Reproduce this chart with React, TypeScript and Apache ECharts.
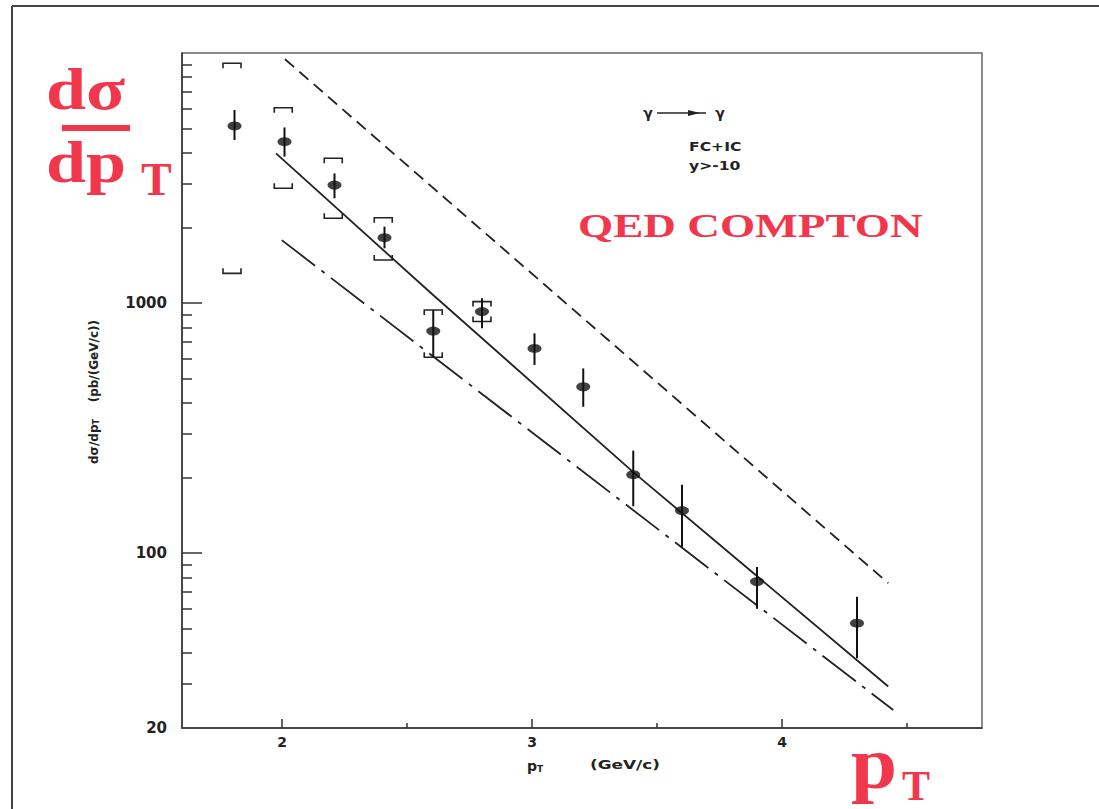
import React, { useEffect, useRef } from 'react';
import * as echarts from 'echarts';

// ---- data ----
const ptValues = [1.81, 2.01, 2.21, 2.41, 2.605, 2.80, 3.01, 3.205, 3.405, 3.60, 3.90, 4.30];
const sigmaValues = [5110, 4420, 2965, 1826, 773, 925, 659, 463, 206, 148, 77, 52.5];
const errHigh = [5920, 5040, 3300, 2021, 938, 1045, 757, 548, 257, 188, 88, 67];
const errLow = [4490, 3850, 2625, 1656, 607, 793, 566, 385, 154, 106, 60, 38];

const bracketPt = [1.80, 2.005, 2.205, 2.405, 2.605, 2.80];
const bracketHigh = [9100, 6040, 3795, 2195, 938, 1014];
const bracketLow = [1315, 2880, 2183, 1486, 607, 844];

const dashedPt = [2.012, 4.425];
const dashedVal = [9440, 75.9];
const solidPt = [1.976, 2.6, 3.405, 4.425];
const solidVal = [3970, 1087, 211, 29.3];
const dashDotPt = [1.999, 4.445];
const dashDotVal = [1786, 23.6];

const xTickMajor = [2, 3, 4];
const xTickMinor = [2.5, 3.5, 4.5];
const yLabels = [20, 100, 1000];
const yTickMajor = [100, 1000];
const yTickMinor = [30, 40, 50, 60, 70, 80, 90, 200, 300, 400, 500, 600, 700, 800, 900, 2000, 3000, 4000, 5000, 6000, 7000, 8000, 9000];

const RED = '#f2364c';
const INK = '#222';

export default function App() {
  const ref = useRef<HTMLDivElement>(null);
  useEffect(() => {
    if (!ref.current) return;
    const chart = echarts.init(ref.current, undefined, { renderer: 'svg' });
    const pair = (xs: number[], ys: number[]) => xs.map((x, i) => [x, ys[i]]);
    const lineSeries = (name: string, data: number[][], type: any) => ({
      name, type: 'line', data, showSymbol: false, symbol: 'none', silent: true,
      lineStyle: { color: INK, width: 1.8, type },
      z: 3,
    });
    // serif text placed by its baseline (central baseline sits ~0.3375em above alphabetic one)
    const serif = (text: string, x: number, baseline: number, size: number, scaleX = 1, lineHeight?: number) => ({
      type: 'text', x, y: baseline - 0.3375 * size, scaleX,
      style: { text, font: `bold ${size}px "Liberation Serif"`, fill: RED, textAlign: 'left', textVerticalAlign: 'middle', lineHeight: lineHeight ?? size },
    });
    const option: any = {
      animation: false,
      backgroundColor: '#ffffff',
      grid: { left: 182, top: 53, right: 117, bottom: 81, show: true, borderColor: '#666', borderWidth: 1.5, backgroundColor: 'transparent' },
      xAxis: [
        {
          type: 'value', min: 1.6, max: 4.8,
          axisLine: { show: true, lineStyle: { color: '#333', width: 1.5 } },
          splitLine: { show: false },
          axisTick: { show: true, inside: true, length: 9, customValues: xTickMajor, lineStyle: { color: '#333', width: 1.5 } },
          axisLabel: { customValues: xTickMajor, margin: 7, color: INK, fontFamily: 'DejaVu Sans', fontWeight: 'bold', fontSize: 14, formatter: (v: number) => String(v) },
        },
        {
          type: 'value', min: 1.6, max: 4.8, position: 'bottom',
          axisLine: { show: false }, splitLine: { show: false },
          axisTick: { show: true, inside: true, length: 5, customValues: xTickMinor, lineStyle: { color: '#333', width: 1.5 } },
          axisLabel: { show: false },
        },
      ],
      yAxis: [
        {
          type: 'log', logBase: 10, min: 20, max: 10000,
          axisLine: { show: true, lineStyle: { color: '#333', width: 1.5 } },
          splitLine: { show: false },
          axisTick: { show: true, inside: true, length: 20, customValues: yTickMajor, lineStyle: { color: '#333', width: 1.5 } },
          axisLabel: { customValues: yLabels, margin: 15, color: INK, fontFamily: 'DejaVu Sans', fontWeight: 'bold', fontSize: 15, formatter: (v: number) => String(Math.round(v)) },
        },
        {
          type: 'log', logBase: 10, min: 20, max: 10000, position: 'left',
          axisLine: { show: false }, splitLine: { show: false },
          axisTick: { show: true, inside: true, length: 10, customValues: yTickMinor, lineStyle: { color: '#333', width: 1.5 } },
          axisLabel: { show: false },
        },
      ],
      series: [
        lineSeries('dashed', pair(dashedPt, dashedVal), [12, 7]),
        lineSeries('solid', pair(solidPt, solidVal), 'solid'),
        lineSeries('dashdot', pair(dashDotPt, dashDotVal), [42, 8, 4, 8]),
        {
          name: 'syst', type: 'custom', silent: true, z: 4,
          data: bracketPt.map((x, i) => [x, bracketHigh[i], bracketLow[i]]),
          encode: { x: 0, y: [1, 2] },
          renderItem: (params: any, api: any) => {
            const x = api.value(0);
            const t = api.coord([x, api.value(1)]);
            const b = api.coord([x, api.value(2)]);
            const w = 9, h = 5;
            const st = { stroke: '#222', lineWidth: 1.6, fill: null };
            return {
              type: 'group', children: [
                { type: 'polyline', shape: { points: [[t[0] - w, t[1] + h], [t[0] - w, t[1]], [t[0] + w, t[1]], [t[0] + w, t[1] + h]] }, style: st },
                { type: 'polyline', shape: { points: [[b[0] - w, b[1] - h], [b[0] - w, b[1]], [b[0] + w, b[1]], [b[0] + w, b[1] - h]] }, style: st },
              ],
            };
          },
        },
        {
          name: 'stat', type: 'custom', silent: true, z: 5,
          data: ptValues.map((x, i) => [x, errLow[i], errHigh[i]]),
          encode: { x: 0, y: [1, 2] },
          renderItem: (params: any, api: any) => {
            const x = api.value(0);
            const a = api.coord([x, api.value(1)]);
            const b = api.coord([x, api.value(2)]);
            return { type: 'line', shape: { x1: a[0], y1: a[1], x2: b[0], y2: b[1] }, style: { stroke: '#111', lineWidth: 2 } };
          },
        },
        {
          name: 'data', type: 'scatter', silent: true, z: 6,
          symbol: 'circle', symbolSize: [14, 9],
          itemStyle: { color: '#111' },
          data: pair(ptValues, sigmaValues),
        },
      ],
      graphic: [
        // outer frame
        { type: 'line', shape: { x1: 12, y1: 6, x2: 1099, y2: 6 }, style: { stroke: '#444', lineWidth: 2 } },
        { type: 'line', shape: { x1: 12, y1: 6, x2: 12, y2: 809 }, style: { stroke: '#444', lineWidth: 2 } },
        // big red fraction
        serif('dσ', 46, 109, 60, 1.2),
        { type: 'rect', shape: { x: 62, y: 125, width: 68, height: 6 }, style: { fill: RED } },
        serif('dp', 46, 182, 60, 1.2),
        serif('T', 141, 195, 46),
        // bottom right pT
        serif('p', 851, 788, 74, 1.12, 44),
        serif('T', 902, 800, 42, 1, 28),
        // QED COMPTON
        serif('QED COMPTON', 578, 237, 34, 1.33),
        // process annotation
        { type: 'text', x: 648, y: 113, style: { text: 'γ', font: 'bold 14px "DejaVu Sans"', fill: INK, textAlign: 'center', textVerticalAlign: 'middle' } },
        { type: 'line', shape: { x1: 657, y1: 113, x2: 706, y2: 113 }, style: { stroke: INK, lineWidth: 1.5 } },
        { type: 'polygon', shape: { points: [[688, 110], [700, 113], [688, 116]] }, style: { fill: INK } },
        { type: 'text', x: 720, y: 113, style: { text: 'γ', font: 'bold 14px "DejaVu Sans"', fill: INK, textAlign: 'center', textVerticalAlign: 'middle' } },
        { type: 'text', x: 689, y: 147, scaleX: 1.3, style: { text: 'FC+IC', font: 'bold 12px "DejaVu Sans"', fill: INK, textAlign: 'left', textVerticalAlign: 'middle' } },
        { type: 'text', x: 689, y: 166, scaleX: 1.3, style: { text: 'y>-10', font: 'bold 12px "DejaVu Sans"', fill: INK, textAlign: 'left', textVerticalAlign: 'middle' } },
        // axis names
        {
          type: 'text', x: 94, y: 392, rotation: Math.PI / 2,
          style: {
            text: '{a|dσ/dp}{s|T}{a|    (pb/(GeV/c))}',
            textAlign: 'center', textVerticalAlign: 'middle', fill: INK,
            rich: {
              a: { font: 'bold 12px "DejaVu Sans"', fill: INK },
              s: { font: 'bold 8px "DejaVu Sans"', fill: INK, padding: [5, 0, 0, 0] },
            },
          },
        },
        {
          type: 'text', x: 527, y: 766,
          style: {
            text: '{a|p}{s|T}',
            textAlign: 'left', textVerticalAlign: 'middle', fill: INK,
            rich: {
              a: { font: 'bold 14px "DejaVu Sans"', fill: INK },
              s: { font: 'bold 9px "DejaVu Sans"', fill: INK, padding: [5, 0, 0, 0] },
            },
          },
        },
        { type: 'text', x: 590, y: 765, scaleX: 1.3, style: { text: '(GeV/c)', font: 'bold 13px "DejaVu Sans"', fill: INK, textAlign: 'left', textVerticalAlign: 'middle' } },
      ],
    };
    chart.setOption(option);
    return () => chart.dispose();
  }, []);
  return <div ref={ref} style={{ position: 'fixed', left: 0, top: 0, width: 1099, height: 809, background: '#fff' }} />;
}
